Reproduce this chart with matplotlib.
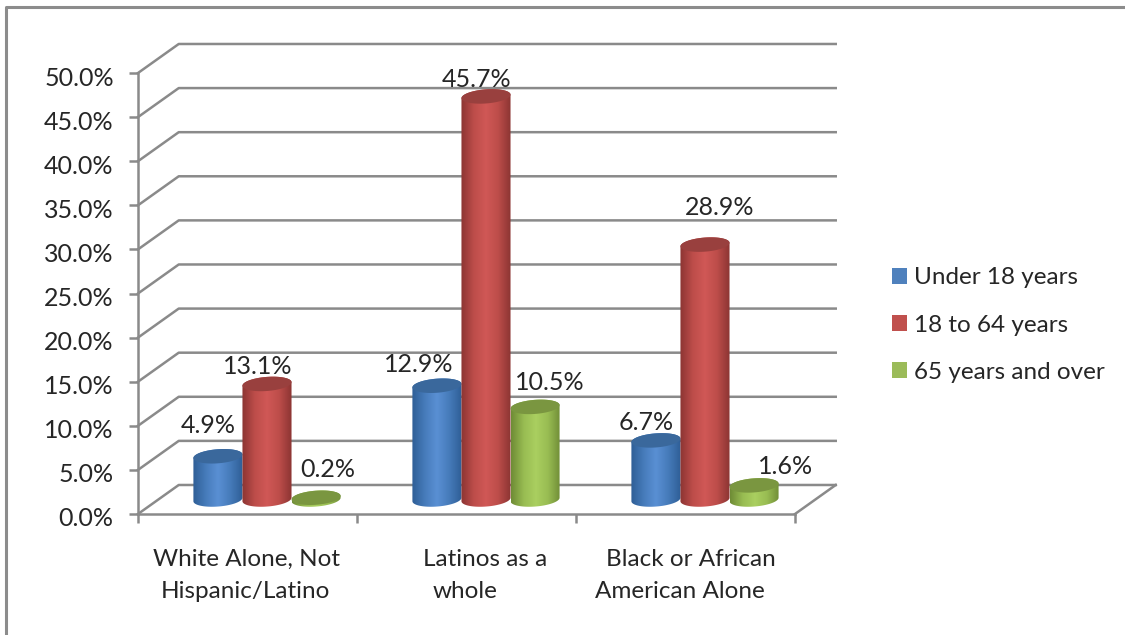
import numpy as np
import matplotlib

matplotlib.use("Agg")
import matplotlib.pyplot as plt
from matplotlib.colors import LinearSegmentedColormap
from matplotlib.lines import Line2D
from matplotlib.patches import Patch, PathPatch, Polygon
from matplotlib.path import Path
from matplotlib.transforms import ScaledTranslation

plt.rcParams["font.family"] = ["Lato", "DejaVu Sans"]

SERIES = ["Under 18 years", "18 to 64 years", "65 years and over"]
WHITE = [4.9, 13.1, 0.2]
LATINO = [12.9, 45.7, 10.5]
BLACK = [6.7, 28.9, 1.6]
GROUPS = [WHITE, LATINO, BLACK]

CATEGORY_LINES = [
    ("White Alone, Not", 0, 0.495, 0),
    ("Hispanic/Latino", 0, 0.49, 1),
    ("Latinos as a", 1, 0.585, 0),
    ("whole", 1, 0.495, 1),
    ("Black or African", 2, 0.525, 0),
    ("American Alone", 2, 0.475, 1),
]
Y_TICKS = np.arange(0, 55, 5)

# pixel offsets of each value label from the top of its cylinder
LABEL_OFFSETS = [
    [(-10, 31), (-9, 17), (12, 28)],
    [(-18, 21), (-9, 17), (15, 24)],
    [(-10, 18), (15, 37), (31, 19)],
]

LEGEND_COLORS = ["#4F81BD", "#C0504D", "#9BBB59"]
BODY_STOPS = [
    ["#2F5F97", "#467BBA", "#5A90D4", "#467BBA", "#2F5F97"],
    ["#8C3533", "#BD4D4A", "#D05856", "#BD4D4A", "#8C3533"],
    ["#6F8C36", "#98BC52", "#AACF60", "#98BC52", "#6F8C36"],
]
TOP_COLORS = ["#3A689C", "#99403E", "#7A9640"]
GRID = "#8A8A8A"
TEXT = "#262626"
FONT = 17.5
NUM_FONT = 18

DEPTH_X = 0.186
DEPTH_Y = 3.29
BAR_STEP = 0.224
RX = 0.112
RY = 0.8
TILT = 0.2

fig = plt.figure(figsize=(11.25, 6.35), dpi=100)
ax = fig.add_axes([138 / 1125, 1 - 514 / 635, 657 / 1125, 441 / 635])
ax.patch.set_visible(False)

# outer chart frame, open on the right and at the bottom
fig.add_artist(Line2D([6 / 1125, 6 / 1125, 1], [0, 1 - 7 / 635, 1 - 7 / 635],
                      color="#8C8C8C", linewidth=2.2))

for v in Y_TICKS:
    ax.plot([0, DEPTH_X, 3 + DEPTH_X], [v, v + DEPTH_Y, v + DEPTH_Y],
            color=GRID, linewidth=1.8, clip_on=False, zorder=1)
ax.plot([3, 3 + DEPTH_X], [0, DEPTH_Y], color=GRID, linewidth=1.8, clip_on=False, zorder=1)


def ellipse_arc(cx, cy, start, stop, n=60):
    t = np.linspace(start, stop, n)
    return np.column_stack([
        cx + RX * np.cos(t),
        cy + RY * np.sin(t) + TILT * np.cos(t),
    ])


def draw_cylinder(cx, value, series_idx, zorder):
    base = DEPTH_Y / 2
    top = base + value
    # outline: front of the base, then back over the top ellipse
    front = ellipse_arc(cx, base, np.pi, 2 * np.pi)
    back = ellipse_arc(cx, top, 0, np.pi)
    outline = np.vstack([front, back, front[:1]])
    codes = [Path.MOVETO] + [Path.LINETO] * (len(outline) - 2) + [Path.CLOSEPOLY]
    clip = PathPatch(Path(outline, codes), transform=ax.transData, facecolor="none", edgecolor="none")
    ax.add_patch(clip)

    cmap = LinearSegmentedColormap.from_list("body", BODY_STOPS[series_idx])
    im = ax.imshow(np.linspace(0, 1, 64)[None, :], cmap=cmap, aspect="auto",
                   extent=(cx - RX, cx + RX, base - RY - TILT, top + RY + TILT), zorder=zorder)
    im.set_clip_path(clip)

    cap = ellipse_arc(cx, top, 0, 2 * np.pi)
    ax.add_patch(Polygon(cap, closed=True, facecolor=TOP_COLORS[series_idx],
                         edgecolor="none", zorder=zorder + 0.1, clip_on=False))
    return top


z = 3
for g, values in enumerate(GROUPS):
    for s, value in enumerate(values):
        cx = g + 0.5 + DEPTH_X / 2 - 0.004 + (s - 1) * BAR_STEP
        top = draw_cylinder(cx, value, s, z)
        ax.annotate(f"{value:.1f}%", (cx, top), xytext=LABEL_OFFSETS[g][s],
                    textcoords="offset pixels", ha="center", va="center",
                    fontsize=NUM_FONT, color=TEXT, zorder=20, annotation_clip=False)
        z += 1

ax.set_xlim(0, 3)
ax.set_ylim(0, 50)

ax.set_yticks(Y_TICKS)
ax.set_yticklabels([f"{v:.1f}%" for v in Y_TICKS], fontsize=NUM_FONT, color=TEXT)
ax.set_xticks([0, 1, 2, 3])
ax.set_xticklabels([])
ax.tick_params(axis="both", color=GRID, width=1.8, length=6.5, direction="out")
ax.tick_params(axis="y", pad=11)
# tick labels sit slightly below their ticks; tick_params resets transforms, so do this after
label_shift = ScaledTranslation(0, -3 / 100, fig.dpi_scale_trans)
for label in ax.get_yticklabels():
    label.set_transform(label.get_transform() + label_shift)
for side in ("top", "right"):
    ax.spines[side].set_visible(False)
for side in ("left", "bottom"):
    ax.spines[side].set_color(GRID)
    ax.spines[side].set_linewidth(1.8)

for text, cat, frac, row in CATEGORY_LINES:
    ax.annotate(text, (cat + frac, 0), xytext=(0, -45 - 32 * row),
                textcoords="offset pixels", ha="center", va="center",
                fontsize=FONT, color=TEXT, annotation_clip=False)

handles = [Patch(facecolor=c, edgecolor="none") for c in LEGEND_COLORS]
fig.legend(handles, SERIES, loc="center left", bbox_to_anchor=(892 / 1125, 1 - 325 / 635),
           frameon=False, fontsize=FONT, labelspacing=1.07, handlelength=0.62,
           handleheight=0.62, handletextpad=0.3, borderpad=0, borderaxespad=0,
           labelcolor=TEXT)

fig.savefig("out.png", dpi=100)
